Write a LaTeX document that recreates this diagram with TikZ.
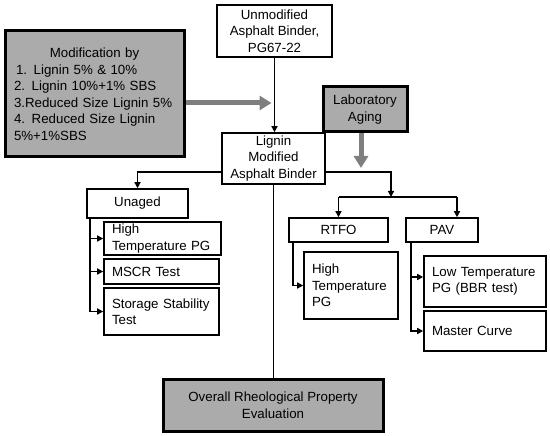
\documentclass[tikz,border=0pt]{standalone}
\usepackage{fontspec}
\setmainfont{Liberation Sans}
\usetikzlibrary{arrows.meta,calc}
\definecolor{boxgray}{HTML}{ABABAB}
\definecolor{arrowgray}{HTML}{7F7F7F}
\tikzstyle{box} = [draw, line width=1.6pt, inner sep=2pt, align=center]
\tikzstyle{graybox} = [box, fill=boxgray, line width=3pt]
\tikzstyle{listbox} = [box, align=left, inner xsep=8pt]
\tikzstyle{edge} = [line width=1.6pt]
\tikzstyle{diredge} = [line width=1.6pt, -{Triangle[length=6pt,width=6pt]}]
\tikzstyle{grayedge} = [line width=5pt, arrowgray, -{Triangle[length=12pt,width=14pt]}]

\begin{document}
\begin{tikzpicture}[x=1pt, y=-1pt, every node/.style={font=\fontsize{13.3}{16.5}\selectfont}]
    \useasboundingbox (0,0) rectangle (550,436);
    % top part
    \node[box,minimum width=115,minimum height=52] (unmod) at (274.5,31)
        {Unmodified\\Asphalt Binder,\\PG67-22};
    \node[graybox,minimum width=179,minimum height=126,text width=161pt,
        align=left,inner xsep=9pt] (modif) at (94.5,94)
        {\hfill Modification by\hfill\null\\
         \hspace{2pt}1. Lignin 5\% \& 10\%\\
         2. Lignin 10\%+1\% SBS\\
         3.Reduced Size Lignin 5\%\\
         4. Reduced Size Lignin\\
         5\%+1\%SBS\\[12pt]};
    \node[graybox,minimum width=84,minimum height=45] (aging) at (365,109.5)
        {Laboratory\\Aging};
    \node[box,minimum width=103,minimum height=51] (lignin) at (273.5,158.5)
        {Lignin\\Modified\\Asphalt Binder};
    % unaged branch
    \node[box,minimum width=101,minimum height=29] (unaged) at (137.5,203.5) {Unaged};
    \node[listbox,minimum width=117,minimum height=31,text width=101pt] (hpg) at (162.5,238.5)
        {High\\Temperature PG};
    \node[listbox,minimum width=115,minimum height=25,text width=99pt] (mscr) at (161.5,271.5)
        {MSCR Test};
    \node[listbox,minimum width=115,minimum height=47,text width=99pt] (storage) at (161.5,311.5)
        {Storage Stability\\Test};
    % aged branch
    \node[box,minimum width=99,minimum height=24] (rtfo) at (338.5,230) {RTFO};
    \node[box,minimum width=72,minimum height=24] (pav) at (442,230) {PAV};
    \node[listbox,minimum width=94,minimum height=67,text width=78pt] (rhpg) at (351,285.5)
        {High\\Temperature\\PG};
    \node[listbox,minimum width=122,minimum height=51,text width=106pt] (ltpg) at (485,281.5)
        {Low Temperature\\PG (BBR test)};
    \node[listbox,minimum width=122,minimum height=40,text width=106pt] (master) at (485,331)
        {Master Curve};
    \node[graybox,minimum width=220,minimum height=52] (overall) at (273,405)
        {Overall Rheological Property\\Evaluation};

    \coordinate (split) at (391,172);
    \coordinate (bar) at (391,197);
    \coordinate (barR) at (457,197);

    \draw[diredge] (unmod.south) -- (unmod.south |- lignin.north);
    \draw[grayedge] ($(modif.east)+(0,9)$) -- ($(modif.east -| unmod.south)+(-3,9)$);
    \draw[grayedge] ($(aging.south)+(-4,0)$) -- ($(aging.south |- split)+(-4,-4)$);
    \draw[diredge] (lignin.west |- split) -| (unaged.north);
    \draw[diredge] (lignin.east |- split) -| (bar);
    \draw[edge] (rtfo.north |- bar) -- (barR);
    \draw[diredge] (rtfo.north |- bar) -- (rtfo.north);
    \draw[diredge] (barR) -- (barR |- pav.north);
    \foreach \n in {hpg,mscr,storage}
        \draw[diredge] ($(unaged.south west)+(4,0)$) |- (\n.west);
    \draw[diredge] ($(rtfo.south west)+(5,0)$) |- (rhpg.west);
    \draw[diredge] ($(pav.south west)+(6,0)$) |- ($(ltpg.west)+(0,-4.5)$);
    \draw[diredge] ($(pav.south west)+(6,0)$) |- (master.west);
    \draw[edge] (lignin.south) -- (lignin.south |- overall.north);
\end{tikzpicture}
\end{document}
